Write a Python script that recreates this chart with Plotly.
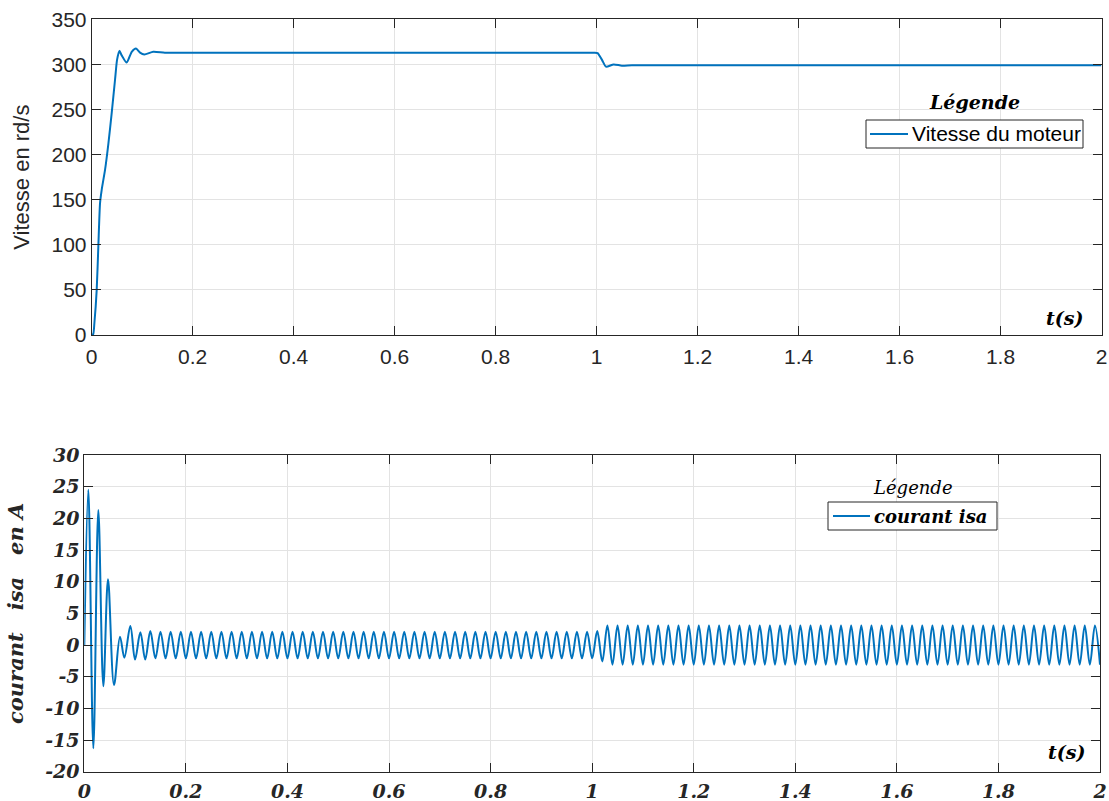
import numpy as np
import plotly.graph_objects as go

# ---------------- data ----------------
# Motor speed (rd/s) versus time (s)
t_speed = [0, 0.0030, 0.0053, 0.0099, 0.0132, 0.0165, 0.0198, 0.0264, 0.033, 0.0396,
           0.0462, 0.0502, 0.0548, 0.0594, 0.0693, 0.0793, 0.0878, 0.0957, 0.1043, 0.122,
           0.145, 0.2, 0.6, 0.99, 0.996, 1.002, 1.0107, 1.0186, 1.0337, 1.050,
           1.07, 1.2, 2.0]
speed = [0, 1, 13, 50, 99, 146, 161, 183, 212, 246,
         283, 305, 315, 310, 302, 314, 317.5, 313, 311, 314,
         313, 313, 313, 313, 313, 312.5, 305, 297.5, 300, 298.6,
         299, 299, 299]

# Stator current isa (A): start-up transient extrema
t_isa_start = [0, 0.0079, 0.0178, 0.0276, 0.0375, 0.0467, 0.0585, 0.0703, 0.0789, 0.0907,
               0.0999, 0.1104]
isa_start = [0, 24.5, -16.3, 21.3, -6.5, 10.4, -6.3, 1.3, -2.0, 3.0,
             -2.3, 2.0]

# Steady-state extrema, one every half period (0.01 s) from t = 0.12 s to 2.00 s
isa_half_period = 0.01
isa_t0 = 0.12
# troughs at 0.12, 0.14, ..., 2.00
isa_troughs = [
    -2.3, -2.1, -2.1, -2.1, -2.1, -2.1, -2.1, -2.1, -2.1, -2.1,
    -2.1, -2.1, -2.1, -2.1, -2.1, -2.1, -2.1, -2.1, -2.1, -2.1,
    -2.1, -2.1, -2.1, -2.1, -2.1, -2.1, -2.1, -2.1, -2.1, -2.1,
    -2.1, -2.1, -2.1, -2.1, -2.1, -2.1, -2.1, -2.1, -2.1, -2.1,
    -2.1, -2.1, -2.1, -2.1, -2.1,
    -2.6,
    -3.1, -3.1, -3.1, -3.1, -3.1, -3.1, -3.1, -3.1, -3.1, -3.1,
    -3.1, -3.1, -3.1, -3.1, -3.1, -3.1, -3.1, -3.1, -3.1, -3.1,
    -3.1, -3.1, -3.1, -3.1, -3.1, -3.1, -3.1, -3.1, -3.1, -3.1,
    -3.1, -3.1, -3.1, -3.1, -3.1, -3.1, -3.1, -3.1, -3.1, -3.1,
    -3.1, -3.1, -3.1, -3.1, -3.1, -3.1, -3.1, -3.1, -3.1,
]
# peaks at 0.13, 0.15, ..., 1.99
isa_peaks = [
    2.2, 2.1, 2.1, 2.1, 2.1, 2.1, 2.1, 2.1, 2.1, 2.1,
    2.1, 2.1, 2.1, 2.1, 2.1, 2.1, 2.1, 2.1, 2.1, 2.1,
    2.1, 2.1, 2.1, 2.1, 2.1, 2.1, 2.1, 2.1, 2.1, 2.1,
    2.1, 2.1, 2.1, 2.1, 2.1, 2.1, 2.1, 2.1, 2.1, 2.1,
    2.1, 2.1, 2.1, 2.1, 2.2,
    3.1, 3.1, 3.1, 3.1, 3.1, 3.1, 3.1, 3.1, 3.1, 3.1,
    3.1, 3.1, 3.1, 3.1, 3.1, 3.1, 3.1, 3.1, 3.1, 3.1,
    3.1, 3.1, 3.1, 3.1, 3.1, 3.1, 3.1, 3.1, 3.1, 3.1,
    3.1, 3.1, 3.1, 3.1, 3.1, 3.1, 3.1, 3.1, 3.1, 3.1,
    3.1, 3.1, 3.1, 3.1, 3.1, 3.1, 3.1, 3.1, 3.1,
]

# Axis ticks
t_ticks = [0, 0.2, 0.4, 0.6, 0.8, 1, 1.2, 1.4, 1.6, 1.8, 2]
t_ticktext = ["0", "0.2", "0.4", "0.6", "0.8", "1", "1.2", "1.4", "1.6", "1.8", "2"]
speed_ticks = [0, 50, 100, 150, 200, 250, 300, 350]
isa_ticks = [-20, -15, -10, -5, 0, 5, 10, 15, 20, 25, 30]
isa_ticktext = ["-20", "-15", "-10", "-5", "0", "5", "10", "15", "20", "25", "30"]

# ---------------- build steady-state sequence ----------------
steady_vals = []
for k in range(len(isa_troughs) + len(isa_peaks)):
    steady_vals.append(isa_troughs[k // 2] if k % 2 == 0 else isa_peaks[k // 2])
steady_t = isa_t0 + isa_half_period * np.arange(len(steady_vals))
t_isa = list(t_isa_start) + list(np.round(steady_t, 4))
isa = list(isa_start) + steady_vals

# ---------------- styles ----------------
W, H = 1109, 801
BLUE = "#0072BD"
AX = "#262626"
GRID = "#e3e3e3"
SANS = "Liberation Sans, Arial, sans-serif"
SERIF = "DejaVu Serif, serif"
SERIF_BI = dict(family=SERIF, weight="bold", style="italic")


def px_x(p):
    return p / W


def px_y(p):
    return 1 - p / H


fig = go.Figure()
fig.add_trace(go.Scatter(
    x=t_speed, y=speed, mode="lines", name="Vitesse du moteur",
    line=dict(color=BLUE, width=2, shape="spline", smoothing=0.6),
    xaxis="x", yaxis="y", showlegend=False,
))
fig.add_trace(go.Scatter(
    x=t_isa, y=isa, mode="lines", name="courant isa",
    line=dict(color=BLUE, width=2, shape="spline", smoothing=1.0),
    xaxis="x2", yaxis="y2", showlegend=False,
))

common = dict(
    showline=True, linecolor=AX, linewidth=1, mirror="ticks",
    ticks="inside", ticklen=9, tickcolor=AX, tickwidth=1,
    showgrid=True, gridcolor=GRID, gridwidth=1, zeroline=False,
    automargin=False,
)

fig.update_layout(
    width=W, height=H,
    margin=dict(l=0, r=0, t=0, b=0, autoexpand=False),
    paper_bgcolor="white", plot_bgcolor="white",
    xaxis=dict(domain=[px_x(91.7), px_x(1101.5)], anchor="y", range=[0, 2],
               tickvals=t_ticks, ticktext=t_ticktext, ticklabelstandoff=3,
               tickfont=dict(family=SANS, size=21, color=AX), **common),
    yaxis=dict(domain=[px_y(335), px_y(19.3)], anchor="x", range=[0, 350],
               tickvals=speed_ticks,
               tickfont=dict(family=SANS, size=21, color=AX),
               title=dict(text="Vitesse en rd/s", font=dict(family=SANS, size=22, color=AX)),
               **common),
    xaxis2=dict(domain=[px_x(84.3), px_x(1100)], anchor="y2", range=[0, 2],
                tickvals=t_ticks, ticktext=t_ticktext, ticklabelstandoff=2,
                tickfont=dict(size=19, color=AX, **SERIF_BI),
                **common),
    yaxis2=dict(domain=[px_y(771.7), px_y(455)], anchor="x2", range=[-20, 30],
                tickvals=isa_ticks, ticktext=isa_ticktext,
                tickfont=dict(size=19, color=AX, **SERIF_BI),
                title=dict(text="courant\u00a0\u00a0 isa\u00a0\u00a0 en A",
                           font=dict(size=21, color=AX, **SERIF_BI)),
                **common),
)

# Legend boxes (title above a framed entry: swatch + label)
legends = [
    # (title, title font, label, label font, box px: x0, x1, y0, y1, swatch x0, x1, title y)
    ("Légende", dict(size=19, **SERIF_BI), "Vitesse du moteur",
     dict(family=SANS, size=21), 866, 1083, 120, 148, 870, 908, 102),
    ("Légende", dict(family=SERIF, size=18, style="italic"), "courant isa",
     dict(size=18, **SERIF_BI), 828, 997, 502, 530, 833, 870, 487),
]

annotations = []
shapes = []
for title, tfont, label, lfont, x0, x1, y0, y1, s0, s1, ty in legends:
    shapes.append(dict(type="rect", xref="paper", yref="paper",
                       x0=px_x(x0), x1=px_x(x1), y0=px_y(y1), y1=px_y(y0),
                       line=dict(color=AX, width=1), fillcolor="white", layer="above"))
    shapes.append(dict(type="line", xref="paper", yref="paper",
                       x0=px_x(s0), x1=px_x(s1), y0=px_y((y0 + y1) / 2), y1=px_y((y0 + y1) / 2),
                       line=dict(color=BLUE, width=2), layer="above"))
    annotations.append(dict(text=label, x=px_x(s1 + 2), y=px_y((y0 + y1) / 2),
                            xref="paper", yref="paper", showarrow=False,
                            xanchor="left", yanchor="middle",
                            font=dict(color="#000000", **lfont)))
    annotations.append(dict(text=title, x=px_x((x0 + x1) / 2), y=px_y(ty),
                            xref="paper", yref="paper", showarrow=False,
                            xanchor="center", yanchor="middle",
                            font=dict(color="#000000", **tfont)))

annotations += [
    dict(text="t(s)", x=px_x(1064), y=px_y(318), xref="paper", yref="paper",
         showarrow=False, xanchor="center", yanchor="middle",
         font=dict(size=19, color="#000000", **SERIF_BI)),
    dict(text="t(s)", x=px_x(1066), y=px_y(752), xref="paper", yref="paper",
         showarrow=False, xanchor="center", yanchor="middle",
         font=dict(size=19, color="#000000", **SERIF_BI)),
]
fig.update_layout(annotations=annotations, shapes=shapes)

fig.write_html("out.html")
